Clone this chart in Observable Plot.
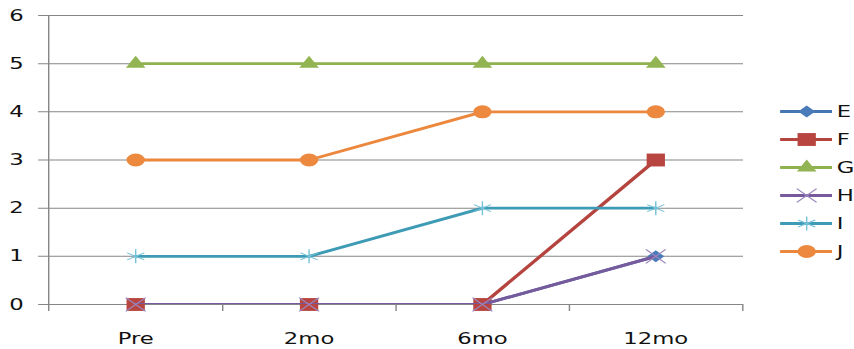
<!DOCTYPE html>
<html>
<head>
<meta charset="utf-8">
<script src="https://cdn.jsdelivr.net/npm/d3@7"></script>
<script src="https://cdn.jsdelivr.net/npm/@observablehq/plot@0.6"></script>
<style>
  html, body { margin: 0; padding: 0; background: #fff; overflow: hidden; }
  #chart { position: relative; width: 854px; height: 349px; overflow: hidden; }
  /* the chart is laid out narrow and stretched horizontally */
  #stretch { position: absolute; left: 0; top: 0; width: 601px; height: 349px;
             transform: scaleX(1.421); transform-origin: 0 0; }
  #stretch svg { position: absolute; left: 0; top: 0; }
</style>
</head>
<body>
<div id="chart"><div id="stretch"></div></div>
<script>
// Categories, series and ticks
const periods = ["Pre", "2mo", "6mo", "12mo"];
const seriesNames = ["E", "F", "G", "H", "I", "J"];
const valuesE = [0, 0, 0, 1];
const valuesF = [0, 0, 0, 3];
const valuesG = [5, 5, 5, 5];
const valuesH = [0, 0, 0, 1];
const valuesI = [1, 1, 2, 2];
const valuesJ = [3, 3, 4, 4];
const yTicks = [0, 1, 2, 3, 4, 5, 6];

const allValues = [valuesE, valuesF, valuesG, valuesH, valuesI, valuesJ];

// Series styling
const styles = [
  {line: "#4575B3", symbol: "diamond2",  r: 5.4, fill: "#4A7CBA", stroke: "none", sw: 0},
  {line: "#B5443F", symbol: "square2",   r: 8.2, fill: "#B8453F", stroke: "none", sw: 0},
  {line: "#8FB14F", symbol: "triangle2", r: 6.6, fill: "#92B452", stroke: "none", sw: 0},
  {line: "#775A9C", symbol: "times",     r: 6.4, fill: "none", stroke: "#9C88C0", sw: 1},
  {line: "#3E9BB5", symbol: "asterisk",  r: 6.6, fill: "none", stroke: "#76C2D8", sw: 1},
  {line: "#EB883D", symbol: "circle",    r: 6.5, fill: "#EC893E", stroke: "none", sw: 0}
];

const W = 601, H = 349;
const mL = 33.1, mR = 78.1, mT = 15, mB = 45;
const halfStep = (W - mL - mR) / periods.length / 2;
const axisColor = "#868686";
const font = {fontFamily: "'DejaVu Sans', sans-serif", fontSize: "16px", color: "#111", background: "transparent"};

const rowsFor = (i) => periods.map((p, j) => ({series: seriesNames[i], period: p, value: allValues[i][j]}));

const seriesMarks = seriesNames.flatMap((name, i) => {
  const s = styles[i];
  const rows = rowsFor(i);
  return [
    Plot.line(rows, {x: "period", y: "value", stroke: s.line, strokeWidth: 2.8, clip: true}),
    Plot.dot(rows, {x: "period", y: "value", symbol: s.symbol, r: s.r, fill: s.fill,
                    stroke: s.stroke, strokeWidth: s.sw})
  ];
});

const chart = Plot.plot({
  width: W, height: H,
  marginLeft: mL, marginRight: mR, marginTop: mT, marginBottom: mB,
  style: font,
  x: {type: "point", domain: periods, padding: 0.5, tickSize: 0, tickPadding: 28, label: null},
  y: {domain: [0, 6], ticks: yTicks, tickFormat: d3.format("d"), tickSize: 0, tickPadding: 17, label: null},
  marks: [
    // horizontal gridlines with short outside ticks
    Plot.ruleY(yTicks, {stroke: axisColor, strokeWidth: 1, insetLeft: -6.3}),
    // category separator ticks below the axis
    Plot.ruleX(periods, {x: d => d, dx: halfStep, y1: 0, y2: 0, insetTop: 7, stroke: axisColor}),
    // vertical value axis line
    Plot.ruleX([periods[0]], {x: d => d, dx: -halfStep, y1: 0, y2: 6, insetTop: 7, stroke: axisColor}),
    ...seriesMarks
  ]
});
document.getElementById("stretch").appendChild(chart);

// Legend on the right
const legendMarks = seriesNames.flatMap((name, i) => {
  const s = styles[i];
  return [
    Plot.ruleY([name], {y: d => d, x1: 549, x2: 585.5, stroke: s.line, strokeWidth: 2.8}),
    Plot.dot([name], {x: 567.2, y: d => d, symbol: s.symbol, r: s.r, fill: s.fill,
                      stroke: s.stroke, strokeWidth: s.sw})
  ];
});

const legend = Plot.plot({
  width: W, height: H,
  margin: 0,
  style: font,
  x: {type: "identity", axis: null},
  y: {type: "point", domain: seriesNames, range: [97, 265.5], axis: null},
  marks: [
    ...legendMarks,
    Plot.text(seriesNames, {x: 588.3, y: d => d, text: d => d, textAnchor: "start", fontSize: 16, fill: "#111"})
  ]
});
document.getElementById("stretch").appendChild(legend);
</script>
</body>
</html>
